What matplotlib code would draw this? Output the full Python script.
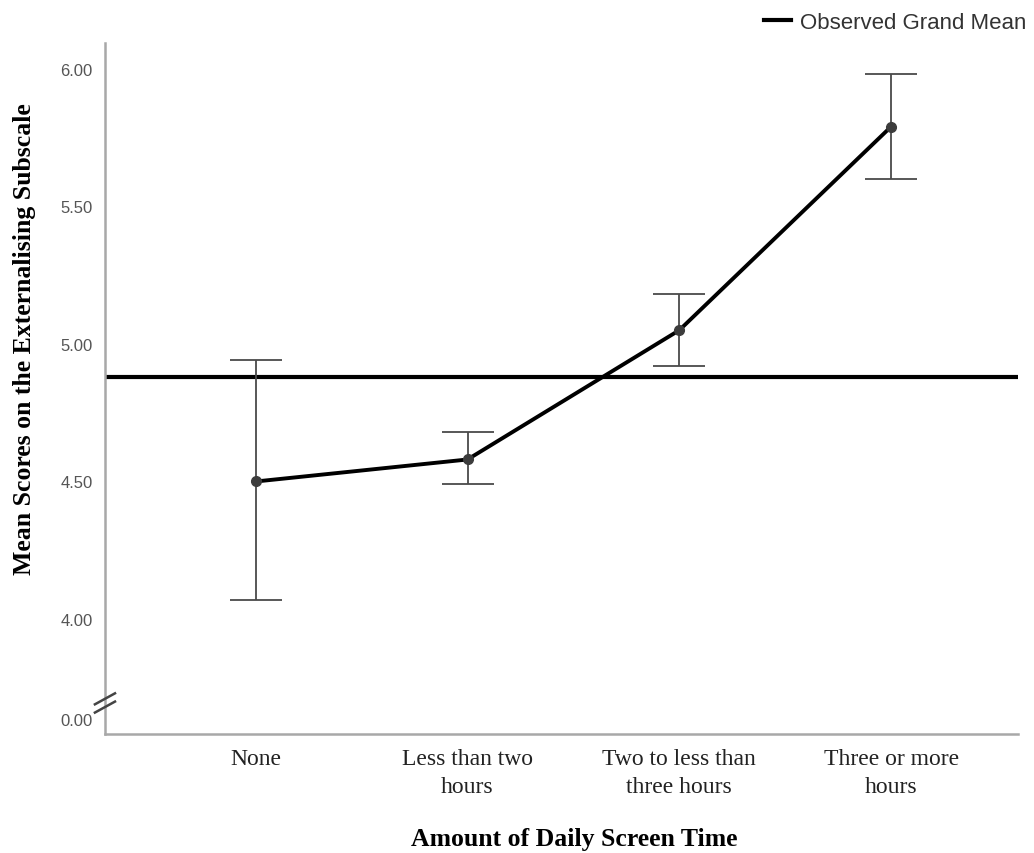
import numpy as np
import matplotlib
matplotlib.use("Agg")
import matplotlib.pyplot as plt
import matplotlib.transforms as mtransforms

# values
categories = ["None", "Less than two\nhours", "Two to less than\nthree hours", "Three or more\nhours"]
means = [4.50, 4.58, 5.05, 5.79]
upper = [4.94, 4.68, 5.18, 5.98]
lower = [4.07, 4.49, 4.92, 5.60]
grand_mean = 4.88

# the axis is broken: 0.00 is drawn just below 4.00
zero_pos = 3.636
ytick_vals = [zero_pos, 4.0, 4.5, 5.0, 5.5, 6.0]
ytick_labels = ["0.00", "4.00", "4.50", "5.00", "5.50", "6.00"]

fig = plt.figure(figsize=(10.34, 8.54), dpi=100)
ax = fig.add_axes([0.1015, 0.1393, 0.883, 0.8092])

x = np.arange(len(categories))
m = np.array(means)
err = np.vstack([m - np.array(lower), np.array(upper) - m])

ax.axhline(grand_mean, color="black", lw=3.0, zorder=2, label="Observed Grand Mean")
ax.errorbar(x, m, yerr=err, fmt="none", ecolor="#4a4a4a", elinewidth=1.3,
            capsize=19, capthick=1.3, zorder=3)
ax.plot(x, m, color="black", lw=2.8, zorder=4)
ax.plot(x, m, "o", color="#3c3c3c", ms=7, zorder=5)

ax.set_xlim(-0.712, 3.599)
ax.set_ylim(3.582, 6.094)
ax.set_xticks(x)
ax.set_xticklabels(categories, family="Liberation Serif", fontsize=17, color="#222222",
                   linespacing=1.45)
ax.set_yticks(ytick_vals)
ax.set_yticklabels(ytick_labels, family="Liberation Sans", fontsize=12, color="#555555")
ax.tick_params(length=0, pad=9)
ax.tick_params(axis="x", pad=10)

for s in ["top", "right"]:
    ax.spines[s].set_visible(False)
for s in ["left", "bottom"]:
    ax.spines[s].set_color("#a8a8a8")
    ax.spines[s].set_linewidth(1.8)

ax.set_xlabel("Amount of Daily Screen Time", family="Liberation Serif",
              fontweight="bold", fontsize=18.5)
ax.xaxis.set_label_coords(0.514, -0.134)
ax.set_ylabel("Mean Scores on the Externalising Subscale", family="Liberation Serif",
              fontweight="bold", fontsize=18.5)
ax.yaxis.set_label_coords(-0.0756, 0.573)

# break marks on the y axis
trans = mtransforms.blended_transform_factory(ax.transAxes, ax.transData)
for dy in [0.0, 0.03]:
    ax.plot([-0.011, 0.011], [3.66 + dy, 3.70 + dy], color="#444444", lw=1.8,
            transform=trans, clip_on=False, zorder=6)

leg = fig.legend(loc="upper right", bbox_to_anchor=(1.012, 1.008), frameon=False,
                 prop={"family": "Liberation Sans", "size": 16},
                 handlelength=1.2, handletextpad=0.4)
for t in leg.get_texts():
    t.set_color("#333333")

fig.savefig("out.png", dpi=100)
